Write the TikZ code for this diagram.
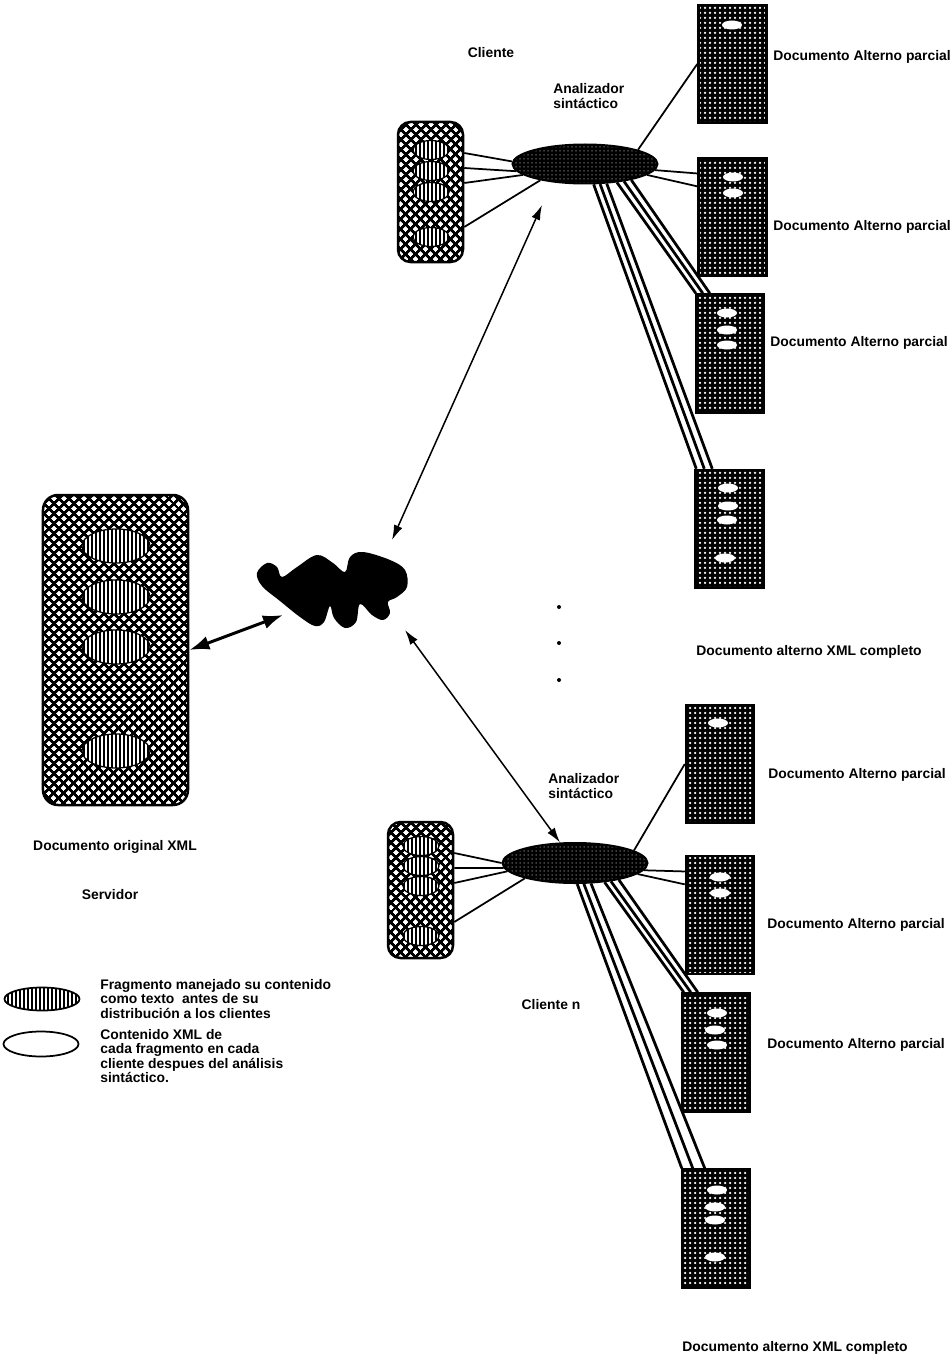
\documentclass[tikz,border=0pt]{standalone}
\usepackage{fontspec}
\setmainfont{Liberation Sans}
\usetikzlibrary{arrows.meta,patterns.meta,shapes.geometric}

\begin{document}
\begin{tikzpicture}[x=0.2mm,y=-0.2mm]
\tikzset{
  meshbox/.style={rectangle,draw,line width=0.5mm,rounded corners=2.5mm,inner sep=0pt,
    preaction={fill=white},
    preaction={pattern={Lines[angle=45,distance=1.4mm,line width=0.55mm]}},
    pattern={Lines[angle=-45,distance=1.4mm,line width=0.55mm]}},
  stripes/.style={ellipse,draw,line width=0.25mm,inner sep=0pt,
    preaction={fill=white},
    pattern={Lines[angle=90,distance=0.8mm,line width=0.3mm]}},
  parser/.style={ellipse,draw,line width=0.4mm,inner sep=0pt,minimum width=29mm,minimum height=7.8mm,
    preaction={fill=black},
    pattern={Dots[distance=0.8mm,radius=0.15mm]},pattern color=gray},
  docbox/.style={rectangle,draw,line width=0.5mm,inner sep=0pt,minimum width=13.6mm,minimum height=23.6mm,
    preaction={fill=black},
    pattern={Dots[distance=1mm,radius=0.25mm]},pattern color=white},
  hole/.style={ellipse,fill=white,inner sep=0pt,minimum width=4mm,minimum height=1.8mm},
  dotmark/.style={circle,fill=black,inner sep=0pt,minimum size=0.8mm},
  lbl/.style={font={\fontsize{7.9}{9}\selectfont\bfseries},inner sep=0pt},
  keylbl/.style={font={\fontsize{7.9}{8.3}\selectfont\bfseries},inner sep=0pt,anchor=west,align=left},
  thinlink/.style={line width=0.35mm},
  bundle/.style={line width=0.55mm},
  netarrow/.style={{Latex[length=3mm,width=1.8mm]}-{Latex[length=3mm,width=1.8mm]},line width=0.3mm},
  bigarrow/.style={{Latex[length=4mm,width=2.8mm]}-{Latex[length=4mm,width=2.8mm]},line width=0.6mm}
}
\useasboundingbox (0,0) rectangle (951,1363);

% servidor
\node[meshbox,minimum width=29mm,minimum height=62mm,rounded corners=3mm] (srv) at (115.5,650) {};
\node[stripes,minimum width=13.6mm,minimum height=6.8mm] (frag_1) at (116,546) {};
\node[stripes,minimum width=13.6mm,minimum height=6.8mm] (frag_2) at (116,597) {};
\node[stripes,minimum width=13.6mm,minimum height=6.8mm] (frag_3) at (116,647) {};
\node[stripes,minimum width=13.6mm,minimum height=6.8mm] (frag_4) at (116,751) {};
\node[lbl] (srv_doc) at (115,847) {Documento original XML};
\node[lbl] (srv_lbl) at (110,895) {Servidor};

% red
\fill[black] plot[smooth cycle,tension=0.6] coordinates {
  (257,573) (267,563) (277,567) (282,577) (297,567) (317,555) (333,563) (345,572)
  (350,557) (363,552) (390,560) (405,570) (407,587) (397,597) (388,602) (390,613)
  (383,620) (372,615) (360,604) (356,622) (345,628) (334,618) (330,606) (324,622)
  (315,626) (300,617) (280,601) (262,586)};
\coordinate (red_w) at (283,615);
\coordinate (red_ne) at (392,540);
\coordinate (red_se) at (405,630);

% cliente 1
\node[lbl] (cli_1_lbl) at (491,53) {Cliente};
\node[meshbox,minimum width=13mm,minimum height=28mm] (cli_1) at (430.5,192) {};
\node[stripes,minimum width=7.2mm,minimum height=3.8mm] (cf_1_1) at (431,150) {};
\node[stripes,minimum width=7.2mm,minimum height=3.8mm] (cf_1_2) at (431,171) {};
\node[stripes,minimum width=7.2mm,minimum height=3.8mm] (cf_1_3) at (431,192) {};
\node[stripes,minimum width=7.2mm,minimum height=3.8mm] (cf_1_4) at (431,237) {};
\node[parser] (pa_1) at (585,164) {};
\node[lbl,anchor=west,align=left] (pa_1_lbl) at (553,96) {Analizador\\sintáctico};
\coordinate (pa_1_in) at (542,205);

\node[docbox] (doc_1) at (732.5,64) {};
\node[docbox] (doc_2) at (732.5,217) {};
\node[docbox] (doc_3) at (730,353.5) {};
\node[docbox] (doc_4) at (729.5,529) {};
\node[hole] (h_1_1) at (732,25) {};
\node[hole] (h_2_1) at (733,177) {};
\node[hole] (h_2_2) at (733,193) {};
\node[hole] (h_3_1) at (727,313) {};
\node[hole] (h_3_2) at (727,330) {};
\node[hole] (h_3_3) at (727,345) {};
\node[hole] (h_4_1) at (728,488) {};
\node[hole] (h_4_2) at (728,506) {};
\node[hole] (h_4_3) at (727,520) {};
\node[hole] (h_4_4) at (725,558) {};
\node[lbl,anchor=west] (doc_1_lbl) at (773,57) {Documento Alterno parcial};
\node[lbl,anchor=west] (doc_2_lbl) at (773,227) {Documento Alterno parcial};
\node[lbl,anchor=west] (doc_3_lbl) at (770,343) {Documento Alterno parcial};
\node[lbl] (full_1_lbl) at (809,652) {Documento alterno XML completo};

\node[dotmark] (dot_1) at (559,607) {};
\node[dotmark] (dot_2) at (559,643) {};
\node[dotmark] (dot_3) at (559,680) {};

% cliente n
\node[meshbox,minimum width=13mm,minimum height=27.2mm] (cli_2) at (420.5,890) {};
\node[stripes,minimum width=7.2mm,minimum height=3.8mm] (cf_2_1) at (421,846) {};
\node[stripes,minimum width=7.2mm,minimum height=3.8mm] (cf_2_2) at (421,866) {};
\node[stripes,minimum width=7.2mm,minimum height=3.8mm] (cf_2_3) at (421,886) {};
\node[stripes,minimum width=7.2mm,minimum height=3.8mm] (cf_2_4) at (421,936) {};
\node[parser,minimum height=8mm] (pa_2) at (575,863) {};
\node[lbl,anchor=west,align=left] (pa_2_lbl) at (548,786) {Analizador\\sintáctico};
\node[lbl] (cli_2_lbl) at (551,1005) {Cliente n};

\node[docbox] (doc_5) at (720,764) {};
\node[docbox] (doc_6) at (720,915) {};
\node[docbox] (doc_7) at (716,1052.5) {};
\node[docbox] (doc_8) at (716,1228.5) {};
\node[hole] (h_5_1) at (718,723) {};
\node[hole] (h_6_1) at (720,877) {};
\node[hole] (h_6_2) at (720,893) {};
\node[hole] (h_7_1) at (717,1013) {};
\node[hole] (h_7_2) at (715,1030) {};
\node[hole] (h_7_3) at (717,1045) {};
\node[hole] (h_8_1) at (717,1190) {};
\node[hole] (h_8_2) at (715,1207) {};
\node[hole] (h_8_3) at (715,1220) {};
\node[hole] (h_8_4) at (715,1257) {};
\node[lbl,anchor=west] (doc_5_lbl) at (768,775) {Documento Alterno parcial};
\node[lbl,anchor=west] (doc_6_lbl) at (767,925) {Documento Alterno parcial};
\node[lbl,anchor=west] (doc_7_lbl) at (767,1045) {Documento Alterno parcial};
\node[lbl] (full_2_lbl) at (795,1348) {Documento alterno XML completo};

% leyenda
\node[stripes,minimum width=15mm,minimum height=4.6mm,line width=0.35mm] (key_1) at (42,999) {};
\node[keylbl] (key_1_lbl) at (100,999) {Fragmento manejado su contenido\\como texto\ \ antes de su\\distribución a los clientes};
\node[ellipse,draw,line width=0.35mm,minimum width=15mm,minimum height=5mm] (key_2) at (41,1044) {};
\node[keylbl] (key_2_lbl) at (100,1056) {Contenido XML de\\cada fragmento en cada\\cliente despues del análisis\\sintáctico.};

% conexiones
\draw[bigarrow] (srv.east) -- (red_w);
\draw[netarrow] (red_ne) -- (pa_1_in);
\draw[netarrow] (red_se) -- (pa_2);

\draw[thinlink] ([yshift=7.8mm]cli_1.east) -- (pa_1.178);
\draw[thinlink] ([yshift=4.8mm]cli_1.east) -- (pa_1.186);
\draw[thinlink] ([yshift=1.8mm]cli_1.east) -- (pa_1.190);
\draw[thinlink] ([yshift=-7mm]cli_1.east) -- (pa_1.200);
\draw[thinlink] (pa_1.15) -- (doc_1.west);
\draw[thinlink] (pa_1.355) -- (doc_2.129);
\draw[thinlink] (pa_1.350) -- (doc_2.139);
\draw[bundle] (pa_1.293) -- ([xshift=0.4mm]doc_4.north west);
\draw[bundle] (pa_1.307) -- ([xshift=2mm]doc_4.north west);
\draw[bundle] (pa_1.318) -- ([xshift=3.6mm]doc_4.north west);
\draw[bundle] (pa_1.330) -- ([xshift=0.2mm]doc_3.north west);
\draw[bundle] (pa_1.336) -- ([xshift=1.6mm]doc_3.north west);
\draw[bundle] (pa_1.341) -- ([xshift=3mm]doc_3.north west);

\draw[thinlink] ([yshift=7.4mm]cli_2.east) -- (pa_2.180);
\draw[thinlink] ([yshift=4.4mm]cli_2.east) -- (pa_2.184);
\draw[thinlink] ([yshift=1.4mm]cli_2.east) -- (pa_2.187);
\draw[thinlink] ([yshift=-6.4mm]cli_2.east) -- (pa_2.197);
\draw[thinlink] (pa_2.12) -- (doc_5.west);
\draw[thinlink] (pa_2.354) -- (doc_6.129);
\draw[thinlink] (pa_2.350) -- (doc_6.139);
\draw[bundle] (pa_2.276) -- ([xshift=0.2mm]doc_8.north west);
\draw[bundle] (pa_2.293) -- ([xshift=2.4mm]doc_8.north west);
\draw[bundle] (pa_2.308) -- ([xshift=4.8mm]doc_8.north west);
\draw[bundle] (pa_2.327) -- ([xshift=0.6mm]doc_7.north west);
\draw[bundle] (pa_2.333) -- ([xshift=2mm]doc_7.north west);
\draw[bundle] (pa_2.339) -- ([xshift=3.4mm]doc_7.north west);
\end{tikzpicture}
\end{document}
